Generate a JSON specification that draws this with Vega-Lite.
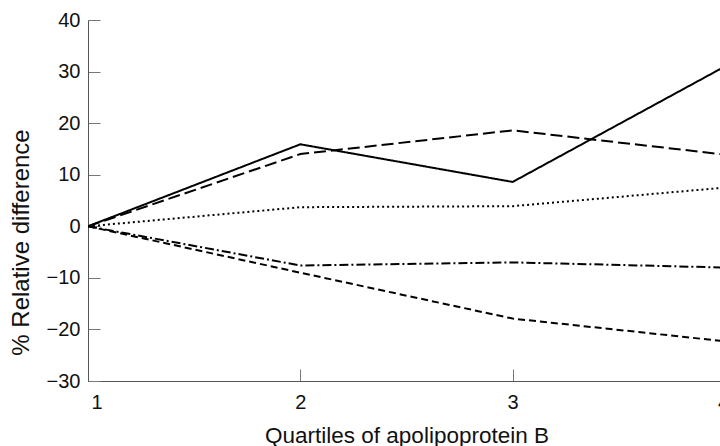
{
  "$schema": "https://vega.github.io/schema/vega-lite/v6.json",
  "autosize": {"type": "none"},
  "width": 637,
  "height": 361,
  "padding": {"left": 88, "top": 20, "right": -5, "bottom": 65},
  "background": "white",
  "config": {
    "view": {"stroke": null},
    "font": "Liberation Sans",
    "axis": {
      "grid": false,
      "domainColor": "#555",
      "domainWidth": 1,
      "tickColor": "#777",
      "tickWidth": 1,
      "tickSize": -12,
      "labelFont": "Liberation Sans",
      "labelFontSize": 20,
      "labelColor": "#111",
      "titleFont": "Liberation Sans",
      "titleFontWeight": "normal",
      "titleColor": "#111"
    }
  },
  "data": {
    "values": [
      {"q": 1, "v": 0, "s": "A"}, {"q": 2, "v": 15.9, "s": "A"}, {"q": 3, "v": 8.6, "s": "A"}, {"q": 4, "v": 31, "s": "A"},
      {"q": 1, "v": 0, "s": "B"}, {"q": 2, "v": 14.0, "s": "B"}, {"q": 3, "v": 18.6, "s": "B"}, {"q": 4, "v": 13.9, "s": "B"},
      {"q": 1, "v": 0, "s": "C"}, {"q": 2, "v": 3.7, "s": "C"}, {"q": 3, "v": 3.9, "s": "C"}, {"q": 4, "v": 7.5, "s": "C"},
      {"q": 1, "v": 0, "s": "D"}, {"q": 2, "v": -7.6, "s": "D"}, {"q": 3, "v": -7.0, "s": "D"}, {"q": 4, "v": -8.0, "s": "D"},
      {"q": 1, "v": 0, "s": "E"}, {"q": 2, "v": -9.0, "s": "E"}, {"q": 3, "v": -17.9, "s": "E"}, {"q": 4, "v": -22.3, "s": "E"}
    ]
  },
  "mark": {"type": "line", "color": "black", "strokeWidth": 2, "clip": true},
  "encoding": {
    "x": {
      "field": "q", "type": "quantitative",
      "scale": {"domain": [1, 4], "nice": false, "zero": false},
      "axis": {
        "values": [1, 2, 3, 4], "format": "d", "title": "Quartiles of apolipoprotein B",
        "labelPadding": 23, "titlePadding": 12, "titleFontSize": 22.5,
        "labelAlign": {"condition": {"test": "datum.value == 1", "value": "left"}, "value": "center"},
        "labelOffset": {"condition": [{"test": "datum.value == 1", "value": 3}, {"test": "datum.value == 4", "value": -2}], "value": 0}
      }
    },
    "y": {
      "field": "v", "type": "quantitative",
      "scale": {"domain": [-30, 40], "nice": false},
      "axis": {
        "values": [-30, -20, -10, 0, 10, 20, 30, 40], "title": "% Relative difference",
        "labelPadding": 20, "titlePadding": 13, "titleFontSize": 24, "titleY": 222
      }
    },
    "detail": {"field": "s"},
    "strokeDash": {
      "field": "s", "type": "nominal", "legend": null,
      "scale": {"domain": ["A", "B", "C", "D", "E"], "range": [[1, 0], [12, 5], [2, 3], [9, 3, 2, 3], [7, 4]]}
    }
  }
}
